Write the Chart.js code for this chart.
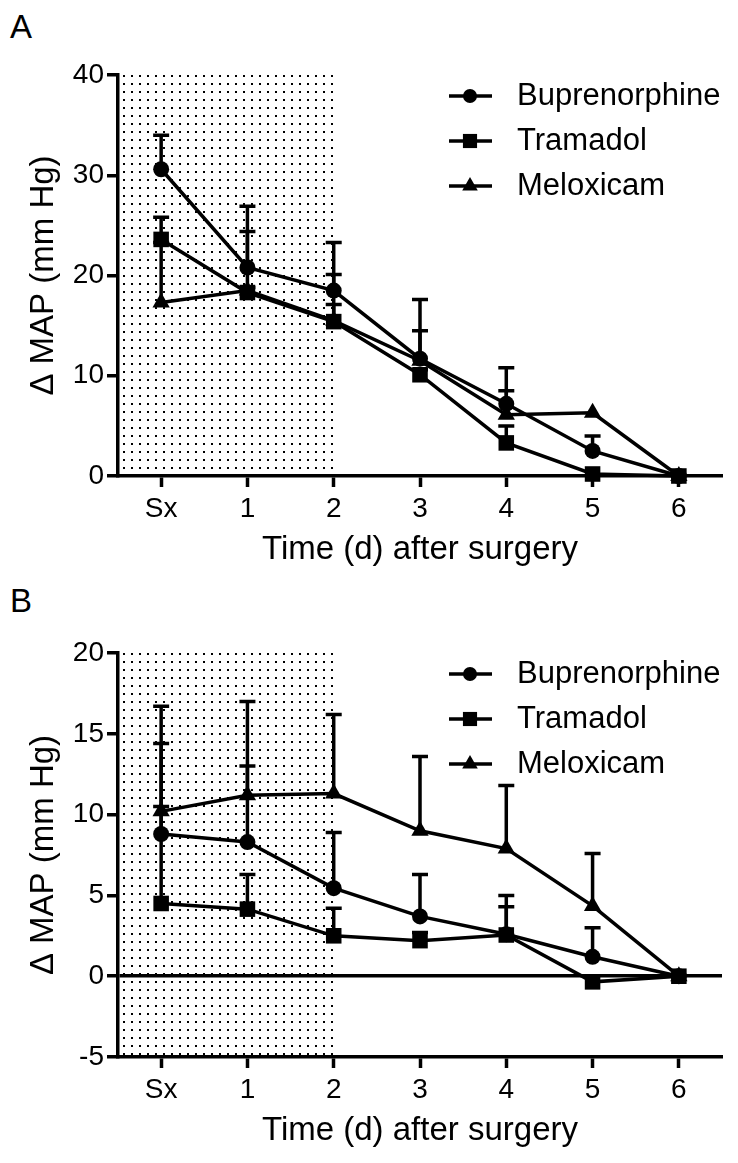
<!DOCTYPE html>
<html>
<head>
<meta charset="utf-8">
<script src="https://cdn.jsdelivr.net/npm/chart.js@4.4.1/dist/chart.umd.min.js"></script>
<style>
  html, body { margin: 0; padding: 0; background: #fff; }
  body { width: 738px; height: 1163px; position: relative; overflow: hidden; font-family: "Liberation Sans", Arial, sans-serif; }
  .panel { position: absolute; left: 0; width: 738px; }
  .letter { position: absolute; left: 10px; font-size: 33px; line-height: 1; color: #000; }
</style>
</head>
<body>
<div class="letter" style="top:10px">A</div>
<div class="letter" style="top:584px">B</div>
<div class="panel" style="top:0px; height:580px"><canvas id="chartA" width="738" height="580"></canvas></div>
<div class="panel" style="top:578px; height:585px"><canvas id="chartB" width="738" height="585"></canvas></div>
<script>
// categories and series names
const days = ['Sx', '1', '2', '3', '4', '5', '6'];
const seriesNames = ['Buprenorphine', 'Tramadol', 'Meloxicam'];
const shadeEnd = 2; // shaded (dotted) period runs from surgery to day 2

// Panel A: mean change in MAP, and upward SEM
const bupA = [30.6, 20.8, 18.5, 11.7, 7.2, 2.5, 0];
const bupA_sem = [3.4, 6.1, 4.8, 5.9, 3.6, 1.5, 0];
const tramA = [23.6, 18.3, 15.4, 10.1, 3.3, 0.2, 0];
const tramA_sem = [2.2, 0.5, 1.7, 0.5, 1.7, 0, 0];
const meloxA = [17.3, 18.5, 15.5, 11.5, 6.1, 6.3, 0];
const meloxA_sem = [6.0, 5.9, 4.6, 3.0, 2.4, 0, 0];
const yTicksA = [0, 10, 20, 30, 40];

// Panel B
const bupB = [8.8, 8.3, 5.45, 3.7, 2.6, 1.2, 0];
const bupB_sem = [5.6, 4.7, 3.45, 2.6, 2.4, 1.8, 0];
const tramB = [4.5, 4.15, 2.5, 2.2, 2.55, -0.35, 0];
const tramB_sem = [6.0, 2.15, 1.7, 0.5, 1.75, 0, 0];
const meloxB = [10.2, 11.2, 11.3, 9.0, 7.9, 4.35, 0];
const meloxB_sem = [6.5, 5.8, 4.9, 4.6, 3.9, 3.25, 0];
const yTicksB = [-5, 0, 5, 10, 15, 20];

Chart.defaults.font.family = '"Liberation Sans", Arial, sans-serif';
Chart.defaults.color = '#000';

const pointStyles = ['circle', 'rect', 'triangle'];
const pointSizes = [8, 11, 10];
const LW = 3.5;

// dotted fill for the shaded period
const dotTile = document.createElement('canvas');
dotTile.width = 8; dotTile.height = 8;
(function () {
    const g = dotTile.getContext('2d');
    g.fillStyle = '#000';
    g.fillRect(3, 3, 2, 2);
})();

const shadePlugin = {
    id: 'shade',
    beforeDraw(chart) {
        const {ctx, chartArea, scales} = chart;
        const x2 = scales.x.getPixelForValue(shadeEnd);
        ctx.save();
        ctx.fillStyle = ctx.createPattern(dotTile, 'repeat');
        ctx.fillRect(chartArea.left + 2, chartArea.top, x2 - chartArea.left - 2, chartArea.bottom - chartArea.top - 2);
        ctx.restore();
    }
};

// one-sided (upward) error bars
const errorBarPlugin = {
    id: 'errorBars',
    beforeDatasetsDraw(chart) {
        const {ctx, scales: {x, y}} = chart;
        ctx.save();
        ctx.strokeStyle = '#000';
        ctx.lineWidth = LW;
        chart.data.datasets.forEach(ds => {
            ds.data.forEach((v, i) => {
                const e = ds.sem[i];
                if (!e) return;
                const px = x.getPixelForValue(i);
                const py0 = y.getPixelForValue(v);
                const py1 = y.getPixelForValue(v + e);
                ctx.beginPath();
                ctx.moveTo(px, py0);
                ctx.lineTo(px, py1);
                ctx.moveTo(px - 8, py1);
                ctx.lineTo(px + 8, py1);
                ctx.stroke();
            });
        });
        ctx.restore();
    }
};

// legend: line + marker, then name
const legendPlugin = {
    id: 'customLegend',
    afterDraw(chart) {
        const {ctx} = chart;
        const rows = [96, 141, 186];
        ctx.save();
        chart.data.datasets.forEach((ds, i) => {
            const yy = rows[i];
            ctx.strokeStyle = '#000';
            ctx.lineWidth = LW;
            ctx.beginPath();
            ctx.moveTo(449, yy);
            ctx.lineTo(492, yy);
            ctx.stroke();
            ctx.fillStyle = '#000';
            Chart.helpers.drawPoint(ctx, {
                pointStyle: pointStyles[i], radius: pointSizes[i] - 1, rotation: 0, borderWidth: 0
            }, 470, yy);
            ctx.font = '31px "Liberation Sans", Arial, sans-serif';
            ctx.textBaseline = 'middle';
            ctx.textAlign = 'left';
            ctx.fillText(ds.label, 517, yy);
        });
        ctx.restore();
    }
};

function makeDatasets(values, sems) {
    return values.map((vals, i) => ({
        label: seriesNames[i],
        data: vals,
        sem: sems[i],
        borderColor: '#000',
        backgroundColor: '#000',
        borderWidth: LW,
        pointStyle: pointStyles[i],
        pointRadius: pointSizes[i],
        pointHoverRadius: pointSizes[i],
        pointBackgroundColor: '#000',
        pointBorderWidth: 0,
        tension: 0,
        clip: false
    }));
}

function makeChart(canvasId, values, sems, yTicks, plotBottom) {
    const canvas = document.getElementById(canvasId);
    const hasNeg = yTicks[0] < 0;
    const titleSize = 33;
    const titleBottomPad = canvas.height - plotBottom - 74 - titleSize * 0.6;
    return new Chart(canvas, {
        type: 'line',
        data: { labels: days, datasets: makeDatasets(values, sems) },
        options: {
            responsive: false,
            animation: false,
            devicePixelRatio: 1,
            layout: { padding: { top: 75, right: 16, left: 0, bottom: 0 } },
            plugins: { legend: { display: false }, tooltip: { enabled: false } },
            scales: {
                x: {
                    type: 'category',
                    offset: true,
                    grid: {
                        offset: false,
                        color: 'transparent',
                        drawTicks: true,
                        tickLength: 11,
                        tickWidth: LW,
                        tickColor: '#000'
                    },
                    border: { display: true, color: '#000', width: LW },
                    ticks: {
                        font: { size: 28 },
                        padding: 5,
                        maxRotation: 0,
                        autoSkip: false
                    },
                    title: {
                        display: true,
                        text: 'Time (d) after surgery',
                        font: { size: titleSize, lineHeight: 1.2 },
                        padding: { top: 0, bottom: titleBottomPad }
                    },
                    afterFit(scale) { scale.height = canvas.height - plotBottom; }
                },
                y: {
                    min: yTicks[0],
                    max: yTicks[yTicks.length - 1],
                    afterBuildTicks(scale) { scale.ticks = yTicks.map(v => ({ value: v })); },
                    grid: {
                        color: ctx => (hasNeg && ctx.tick && ctx.tick.value === 0) ? '#000' : 'transparent',
                        lineWidth: LW,
                        drawTicks: true,
                        tickLength: 11,
                        tickWidth: LW,
                        tickColor: '#000'
                    },
                    border: { display: true, color: '#000', width: LW },
                    ticks: { font: { size: 28 }, padding: 3 },
                    title: {
                        display: true,
                        text: '\u0394 MAP (mm Hg)',
                        font: { size: titleSize, lineHeight: 1.2 },
                        padding: { top: 24, bottom: 0 }
                    },
                    afterFit(scale) { scale.width = 118; }
                }
            }
        },
        plugins: [shadePlugin, errorBarPlugin, legendPlugin]
    });
}

makeChart('chartA', [bupA, tramA, meloxA], [bupA_sem, tramA_sem, meloxA_sem], yTicksA, 476);
makeChart('chartB', [bupB, tramB, meloxB], [bupB_sem, tramB_sem, meloxB_sem], yTicksB, 479);
</script>
</body>
</html>
